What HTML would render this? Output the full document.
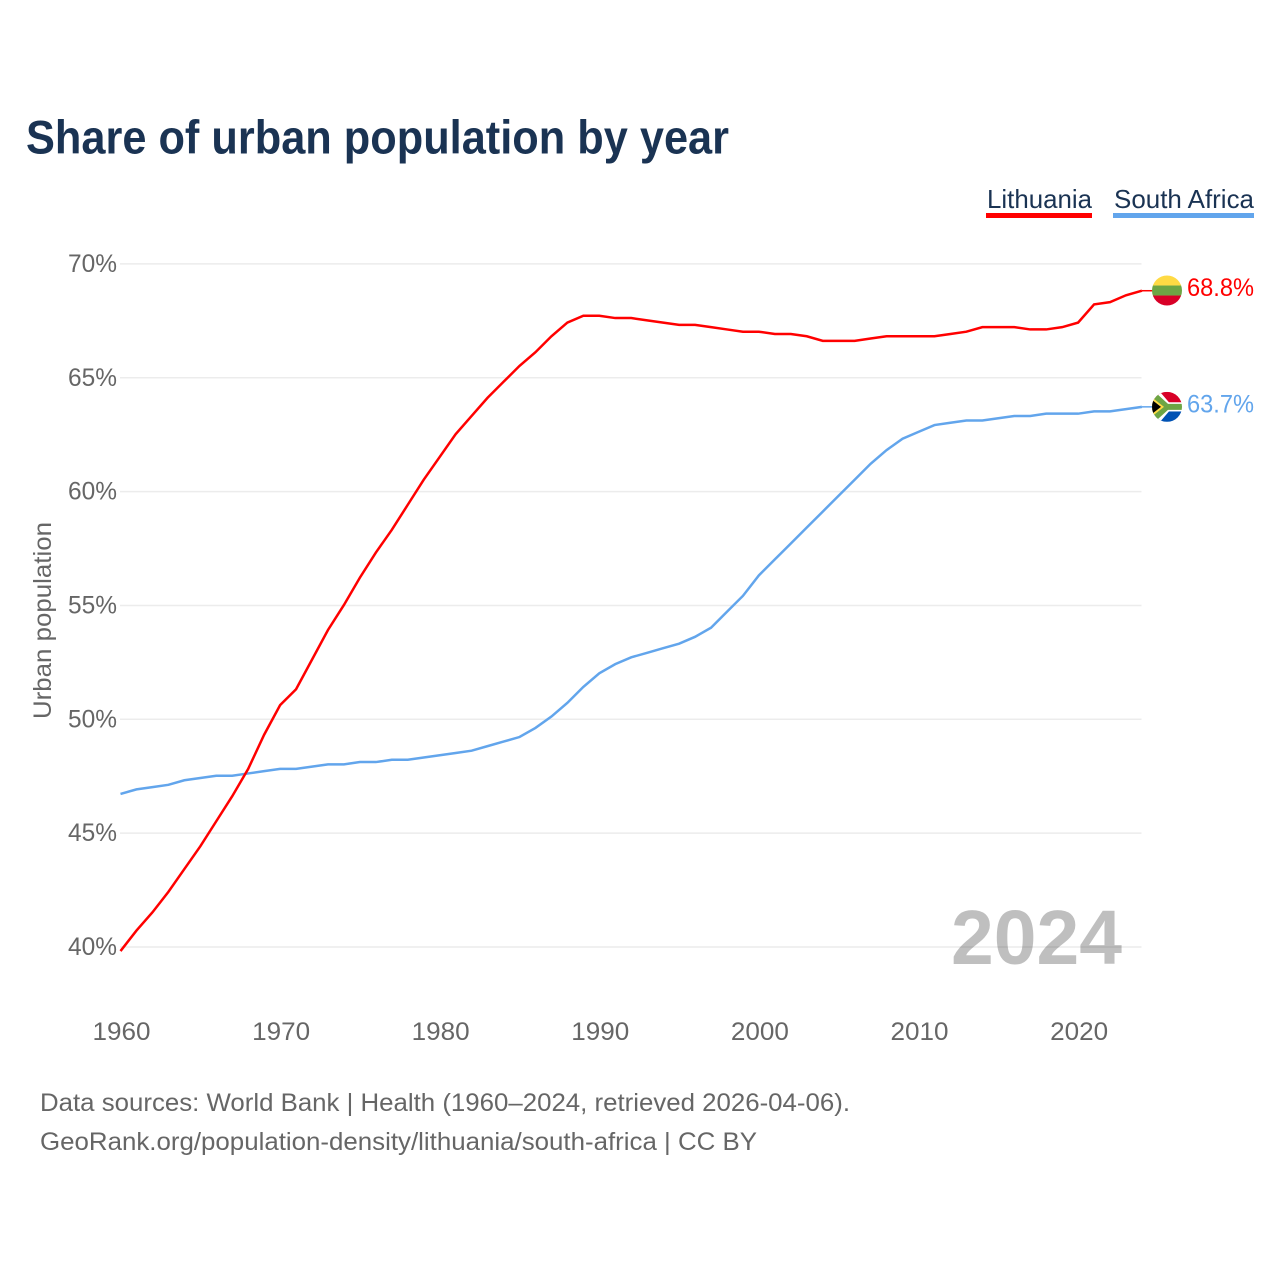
<!DOCTYPE html>
<html>
<head>
<meta charset="utf-8">
<title>Share of urban population by year</title>
<style>
html,body{margin:0;padding:0;background:#fff}
svg{display:block;font-family:"Liberation Sans",sans-serif}
</style>
</head>
<body>
<svg id="chart" xmlns="http://www.w3.org/2000/svg" width="1280" height="1280" viewBox="0 0 1280 1280">
<defs><clipPath id="flag-clip"><circle cx="0" cy="0" r="15"></circle></clipPath></defs>
<rect x="0" y="0" width="1280" height="1280" fill="#fff"></rect>
<text x="26" y="153.5" font-size="47" font-weight="700" fill="#1a3353" textLength="703" lengthAdjust="spacingAndGlyphs">Share of urban population by year</text>
<g id="grid"></g>
<g id="yticks"></g>
<g id="xticks"></g>
<text transform="translate(51,719) rotate(-90)" font-size="25" fill="#666" textLength="197" lengthAdjust="spacingAndGlyphs">Urban population</text>
<text x="951" y="964" font-size="77" font-weight="700" fill="#000" fill-opacity="0.25" textLength="171" lengthAdjust="spacingAndGlyphs">2024</text>
<g id="series"></g>
<g>
<g>
<text x="987" y="208" font-size="26" fill="#1a3353" textLength="105" lengthAdjust="spacingAndGlyphs">Lithuania</text>
<rect x="986" y="213" width="106" height="5" fill="#ff0000"></rect>
</g>
<g>
<text x="1114" y="208" font-size="26" fill="#1a3353" textLength="140" lengthAdjust="spacingAndGlyphs">South Africa</text>
<rect x="1113" y="213" width="141" height="5" fill="#62a5ec"></rect>
</g>
</g>
<g id="flag-lithuania">
<g clip-path="url(#flag-clip)">
<rect x="-15" y="-15" width="30" height="10" fill="#ffda44"></rect>
<rect x="-15" y="-5" width="30" height="10" fill="#6da544"></rect>
<rect x="-15" y="5" width="30" height="10" fill="#d80027"></rect>
</g>
</g>
<g id="flag-south-africa">
<g clip-path="url(#flag-clip)">
<rect x="-15" y="-15" width="30" height="30" fill="#fff"></rect>
<rect x="-15" y="-15" width="30" height="10.5" fill="#d80027"></rect>
<rect x="-15" y="4.5" width="30" height="10.5" fill="#0052b4"></rect>
<path d="M-15,-15 L-7,-15 L2,-4.5 L15,-4.5 L15,4.5 L2,4.5 L-7,15 L-15,15 Z" fill="#fff"></path>
<path d="M-15,-13 L-10,-13 L1,-3 L15,-3 L15,3 L1,3 L-10,13 L-15,13 Z" fill="#6da544"></path>
<path d="M-15,-9.5 L-3,0 L-15,9.5 Z" fill="#ffda44"></path>
<path d="M-15,-7 L-6,0 L-15,7 Z" fill="#000"></path>
</g>
</g>
<g id="end-labels"></g>
<text x="40" y="1111" font-size="25" fill="#666" textLength="810" lengthAdjust="spacingAndGlyphs">Data sources: World Bank | Health (1960–2024, retrieved 2026-04-06).</text>
<text x="40" y="1150" font-size="25" fill="#666" textLength="717" lengthAdjust="spacingAndGlyphs">GeoRank.org/population-density/lithuania/south-africa | CC BY</text>
</svg>
<script>
const years = [1960,1961,1962,1963,1964,1965,1966,1967,1968,1969,1970,1971,1972,1973,1974,1975,1976,1977,1978,1979,1980,1981,1982,1983,1984,1985,1986,1987,1988,1989,1990,1991,1992,1993,1994,1995,1996,1997,1998,1999,2000,2001,2002,2003,2004,2005,2006,2007,2008,2009,2010,2011,2012,2013,2014,2015,2016,2017,2018,2019,2020,2021,2022,2023,2024];
const lithuania = [39.8,40.7,41.5,42.4,43.4,44.4,45.5,46.6,47.8,49.3,50.6,51.3,52.6,53.9,55.0,56.2,57.3,58.3,59.4,60.5,61.5,62.5,63.3,64.1,64.8,65.5,66.1,66.8,67.4,67.7,67.7,67.6,67.6,67.5,67.4,67.3,67.3,67.2,67.1,67.0,67.0,66.9,66.9,66.8,66.6,66.6,66.6,66.7,66.8,66.8,66.8,66.8,66.9,67.0,67.2,67.2,67.2,67.1,67.1,67.2,67.4,68.2,68.3,68.6,68.8];
const southAfrica = [46.7,46.9,47.0,47.1,47.3,47.4,47.5,47.5,47.6,47.7,47.8,47.8,47.9,48.0,48.0,48.1,48.1,48.2,48.2,48.3,48.4,48.5,48.6,48.8,49.0,49.2,49.6,50.1,50.7,51.4,52.0,52.4,52.7,52.9,53.1,53.3,53.6,54.0,54.7,55.4,56.3,57.0,57.7,58.4,59.1,59.8,60.5,61.2,61.8,62.3,62.6,62.9,63.0,63.1,63.1,63.2,63.3,63.3,63.4,63.4,63.4,63.5,63.5,63.6,63.7];
const yTickValues = [40,45,50,55,60,65,70];
const yTickLabels = ["40%","45%","50%","55%","60%","65%","70%"];
const xTickValues = [1960,1970,1980,1990,2000,2010,2020];
const xTickLabels = ["1960","1970","1980","1990","2000","2010","2020"];

const SVG_NS = "http://www.w3.org/2000/svg";
const LINE_SHIFT = -0.5;
function xScale(year) { return 120.5 + (year - 1960) * 15.96; }
function yScale(value) { return 947 - (value - 40) * 22.77; }
function make(tag, parent) {
  const el = document.createElementNS(SVG_NS, tag);
  parent.appendChild(el);
  return el;
}

const grid = document.getElementById("grid");
const yticks = document.getElementById("yticks");
yTickValues.forEach(function (v, i) {
  const line = make("line", grid);
  
  
  line.setAttribute("x1", 120);
  line.setAttribute("x2", 1141.5);
  line.setAttribute("y1", yScale(v));
  line.setAttribute("y2", yScale(v));
  line.setAttribute("stroke", "#ececec");
  line.setAttribute("stroke-width", "1.5");
  const label = make("text", yticks);
  
  
  label.setAttribute("x", 117);
  label.setAttribute("y", yScale(v) + 8);
  label.setAttribute("text-anchor", "end");
  label.setAttribute("font-size", "25");
  label.setAttribute("fill", "#666");
  label.setAttribute("textLength", "49");
  label.setAttribute("lengthAdjust", "spacingAndGlyphs");
  label.textContent = yTickLabels[i];
});

const xticks = document.getElementById("xticks");
xTickValues.forEach(function (v, i) {
  const label = make("text", xticks);
  
  
  label.setAttribute("x", xScale(v) + 1);
  label.setAttribute("y", 1040);
  label.setAttribute("text-anchor", "middle");
  label.setAttribute("font-size", "25");
  label.setAttribute("fill", "#666");
  label.setAttribute("textLength", "58");
  label.setAttribute("lengthAdjust", "spacingAndGlyphs");
  label.textContent = xTickLabels[i];
});

function linePath(values) {
  return values.map(function (v, i) {
    return (i ? "L" : "M") + xScale(years[i]).toFixed(2) + "," + (yScale(v) + LINE_SHIFT).toFixed(2);
  }).join(" ");
}

const series = document.getElementById("series");
const endLabels = document.getElementById("end-labels");
const FLAG_X = 1167;

const lineSA = make("path", series);


lineSA.setAttribute("d", linePath(southAfrica));
lineSA.setAttribute("fill", "none");
lineSA.setAttribute("stroke", "#62a5ec");
lineSA.setAttribute("stroke-width", "2.5");

const lineLT = make("path", series);


lineLT.setAttribute("d", linePath(lithuania));
lineLT.setAttribute("fill", "none");
lineLT.setAttribute("stroke", "#ff0000");
lineLT.setAttribute("stroke-width", "2.5");

const lastLT = lithuania[lithuania.length - 1];
const lastSA = southAfrica[southAfrica.length - 1];
const lastYear = years[years.length - 1];

const connLT = make("line", series);


connLT.setAttribute("x1", xScale(lastYear));
connLT.setAttribute("x2", FLAG_X - 14);
connLT.setAttribute("y1", yScale(lastLT) + LINE_SHIFT);
connLT.setAttribute("y2", yScale(lastLT) + LINE_SHIFT);
connLT.setAttribute("stroke", "#ff0000");
connLT.setAttribute("stroke-width", "1.5");

const connSA = make("line", series);


connSA.setAttribute("x1", xScale(lastYear));
connSA.setAttribute("x2", FLAG_X - 14);
connSA.setAttribute("y1", yScale(lastSA) + LINE_SHIFT);
connSA.setAttribute("y2", yScale(lastSA) + LINE_SHIFT);
connSA.setAttribute("stroke", "#62a5ec");
connSA.setAttribute("stroke-width", "1.5");

document.getElementById("flag-lithuania").setAttribute("transform", "translate(" + FLAG_X + "," + (yScale(lastLT) - 0.7) + ")");
document.getElementById("flag-south-africa").setAttribute("transform", "translate(" + FLAG_X + "," + (yScale(lastSA) - 0.5) + ")");

const valueLT = make("text", endLabels);


valueLT.setAttribute("x", 1187);
valueLT.setAttribute("y", yScale(lastLT) + 5);
valueLT.setAttribute("font-size", "25");
valueLT.setAttribute("fill", "#ff0000");
valueLT.setAttribute("textLength", "67");
valueLT.setAttribute("lengthAdjust", "spacingAndGlyphs");
valueLT.textContent = lastLT.toFixed(1) + "%";

const valueSA = make("text", endLabels);


valueSA.setAttribute("x", 1187);
valueSA.setAttribute("y", yScale(lastSA) + 5);
valueSA.setAttribute("font-size", "25");
valueSA.setAttribute("fill", "#62a5ec");
valueSA.setAttribute("textLength", "67");
valueSA.setAttribute("lengthAdjust", "spacingAndGlyphs");
valueSA.textContent = lastSA.toFixed(1) + "%";
</script>
</body>
</html>
